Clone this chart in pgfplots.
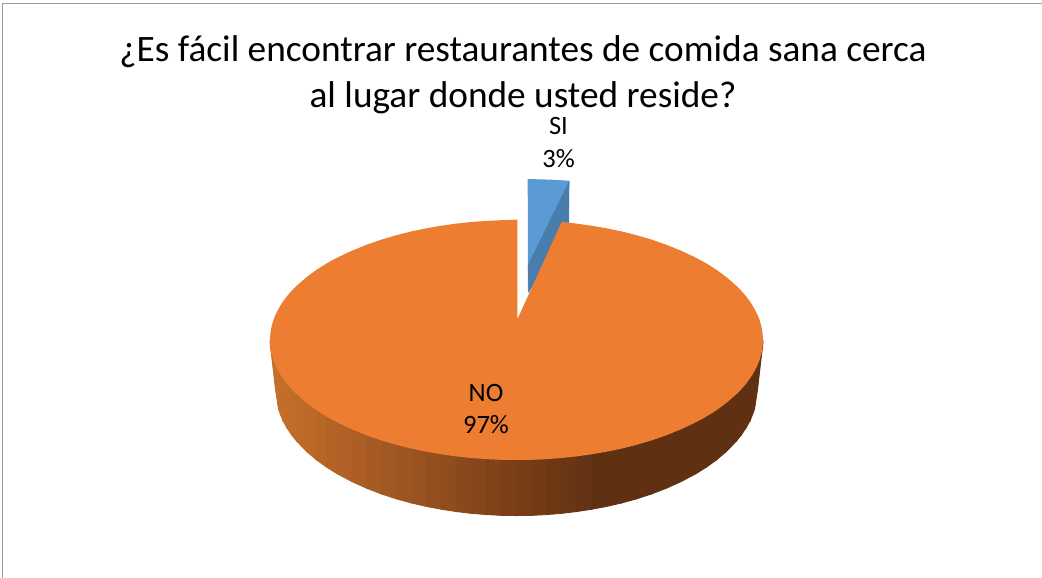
\documentclass[border=0pt]{standalone}
\usepackage{pgfplots}
\pgfplotsset{compat=1.18}
\usepackage{fontspec}
\setmainfont{Carlito}

\definecolor{naranja}{RGB}{237,125,49}
\definecolor{azul}{RGB}{91,155,213}
\definecolor{azuloscuro}{RGB}{73,125,172}
\definecolor{marco}{RGB}{155,155,155}

\begin{document}
\begin{tikzpicture}
\begin{axis}[
    scale only axis,
    width=1042pt,
    height=578pt,
    xmin=0, xmax=1042,
    ymin=0, ymax=578,
    y dir=reverse,
    hide axis,
    clip=true,
    colormap={lado}{rgb255(0pt)=(200,112,44) rgb255(246pt)=(122,62,24) rgb255(330pt)=(95,49,18) rgb255(493pt)=(95,49,18)},
    point meta min=270,
    point meta max=763,
]
% marco
\addplot[draw=marco, line width=1.8pt] coordinates {(2.5,578) (2.5,3.5) (1042,3.5)};

% SI 3%: cara y lado de la porcion separada
\addplot[fill=azul, draw=none] coordinates {(527.7,179) (549,179.6) (569.3,180.7) (569,225) (528,293)} -- cycle;
\addplot[fill=azuloscuro, draw=none] coordinates {(569.3,180.7) (568.8,225) (528.6,293) (527.9,265)} -- cycle;

% NO 97%: lado del cilindro (fila de arriba, fila de abajo)
\addplot[surf, shader=faceted, faceted color=mapped color, line width=0.8pt, mesh/rows=2, point meta=x] coordinates {
(270,340) (270.5,347.6) (271.5,353.2) (273.5,360.1) (275.5,365.2) (278.5,371.2) (282.5,377.7) (286.5,383.2)
(291.5,389) (296.5,394.1) (306.5,402.8) (316.5,410.2) (326.5,416.5) (336.5,422) (351.5,429.1) (366.5,435.2)
(381.5,440.4) (396.5,444.8) (411.5,448.6) (426.5,451.7) (441.5,454.3) (456.5,456.4) (471.5,458) (486.5,459.1)
(501.5,459.8) (516.5,460) (531.5,459.8) (546.5,459.1) (561.5,458) (576.5,456.4) (591.5,454.3) (606.5,451.7)
(621.5,448.6) (636.5,444.8) (651.5,440.4) (666.5,435.2) (681.5,429.1) (696.5,422) (706.5,416.5) (716.5,410.2)
(726.5,402.8) (736.5,394.1) (741.5,389) (746.5,383.2) (750.5,377.7) (754.5,371.2) (757.5,365.2) (759.5,360.1)
(761.5,353.2) (762.5,347.6) (763,340)

(270,342) (270.5,347.6) (271.5,355) (273.5,372.5) (275.5,390) (278.5,409.5) (282.5,419.8) (286.5,427.2)
(291.5,434.7) (296.5,441) (306.5,451.4) (316.5,459.9) (326.5,467.1) (336.5,473.4) (351.5,481.4) (366.5,488.2)
(381.5,494) (396.5,498.9) (411.5,503) (426.5,506.5) (441.5,509.3) (456.5,511.6) (471.5,513.4) (486.5,514.6)
(501.5,515.4) (516.5,515.6) (531.5,515.4) (546.5,514.6) (561.5,513.4) (576.5,511.6) (591.5,509.3) (606.5,506.5)
(621.5,503) (636.5,498.9) (651.5,494) (666.5,488.2) (681.5,481.4) (696.5,473.4) (706.5,467.1) (716.5,459.9)
(726.5,451.4) (736.5,441) (741.5,434.7) (746.5,427.2) (750.5,419.8) (754.5,409.5) (757.5,390) (759.5,372.5)
(761.5,355) (762.5,347.6) (763,342)
};

% NO 97%: cara superior
\addplot[fill=naranja, draw=none] coordinates {
(517.3,319.5) (517.3,219.6) (501.5,220.2) (486.5,220.9) (471.5,222) (456.5,223.6) (441.5,225.7) (426.5,228.3)
(411.5,231.4) (396.5,235.2) (381.5,239.6) (366.5,244.8) (351.5,250.9) (336.5,258) (326.5,263.5) (316.5,269.8)
(306.5,277.2) (296.5,285.9) (291.5,291) (286.5,296.8) (282.5,302.3) (278.5,308.8) (275.5,314.8) (273.5,319.9)
(271.5,326.8) (270.5,332.4) (270,340)
(270.5,347.6) (271.5,353.2) (273.5,360.1) (275.5,365.2) (278.5,371.2) (282.5,377.7) (286.5,383.2)
(291.5,389) (296.5,394.1) (306.5,402.8) (316.5,410.2) (326.5,416.5) (336.5,422) (351.5,429.1) (366.5,435.2)
(381.5,440.4) (396.5,444.8) (411.5,448.6) (426.5,451.7) (441.5,454.3) (456.5,456.4) (471.5,458) (486.5,459.1)
(501.5,459.8) (516.5,460) (531.5,459.8) (546.5,459.1) (561.5,458) (576.5,456.4) (591.5,454.3) (606.5,451.7)
(621.5,448.6) (636.5,444.8) (651.5,440.4) (666.5,435.2) (681.5,429.1) (696.5,422) (706.5,416.5) (716.5,410.2)
(726.5,402.8) (736.5,394.1) (741.5,389) (746.5,383.2) (750.5,377.7) (754.5,371.2) (757.5,365.2) (759.5,360.1)
(761.5,353.2) (762.5,347.6) (763,340)
(762.5,332.4) (761.5,326.8) (759.5,319.9) (757.5,314.8) (754.5,308.8) (750.5,302.3) (746.5,296.8) (741.5,291)
(736.5,285.9) (726.5,277.2) (716.5,269.8) (706.5,263.5) (696.5,258) (681.5,250.9) (666.5,244.8) (651.5,239.6)
(636.5,235.2) (621.5,231.4) (606.5,228.3) (591.5,225.7) (576.5,223.6) (561.7,221.9)
} -- cycle;

% titulo y etiquetas
\node[anchor=base, font=\fontsize{37.3}{37.3}\selectfont] at (axis cs:523,62) {¿Es fácil encontrar restaurantes de comida sana cerca};
\node[anchor=base, font=\fontsize{37.3}{37.3}\selectfont] at (axis cs:523,107) {al lugar donde usted reside?};
\node[anchor=base, font=\fontsize{26.5}{26.5}\selectfont] at (axis cs:558.5,135) {SI};
\node[anchor=base, font=\fontsize{26.5}{26.5}\selectfont] at (axis cs:558.5,167) {3\%};
\node[anchor=base, font=\fontsize{26.5}{26.5}\selectfont] at (axis cs:486,401) {NO};
\node[anchor=base, font=\fontsize{26.5}{26.5}\selectfont] at (axis cs:486,433) {97\%};
\end{axis}
% hide axis no cuenta para el tamano de la pagina
\path (0,0) rectangle (1042pt,578pt);
\end{tikzpicture}
\end{document}
